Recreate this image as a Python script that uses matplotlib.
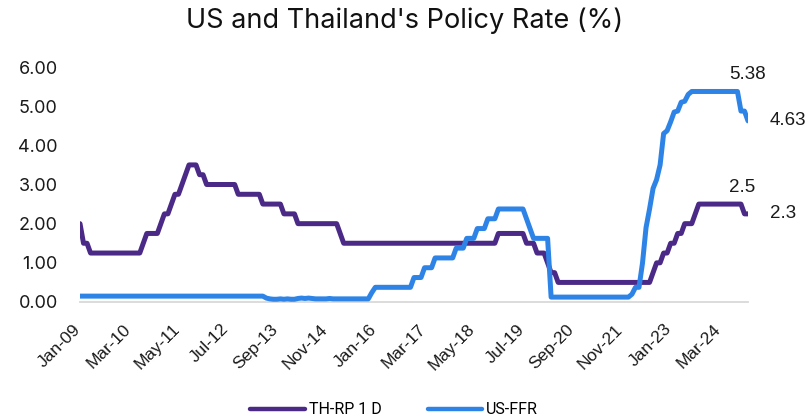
import numpy as np
import matplotlib
matplotlib.use("Agg")
import matplotlib.pyplot as plt
from matplotlib.transforms import ScaledTranslation

# Monthly data, Jan-2009 .. Nov-2024
th_rate = [
    2.00, 1.50, 1.50, 1.25, 1.25, 1.25, 1.25, 1.25, 1.25, 1.25, 1.25, 1.25,  # 2009
    1.25, 1.25, 1.25, 1.25, 1.25, 1.25, 1.50, 1.75, 1.75, 1.75, 1.75, 2.00,  # 2010
    2.25, 2.25, 2.50, 2.75, 2.75, 3.00, 3.25, 3.50, 3.50, 3.50, 3.25, 3.25,  # 2011
    3.00, 3.00, 3.00, 3.00, 3.00, 3.00, 3.00, 3.00, 3.00, 2.75, 2.75, 2.75,  # 2012
    2.75, 2.75, 2.75, 2.75, 2.50, 2.50, 2.50, 2.50, 2.50, 2.50, 2.25, 2.25,  # 2013
    2.25, 2.25, 2.00, 2.00, 2.00, 2.00, 2.00, 2.00, 2.00, 2.00, 2.00, 2.00,  # 2014
    2.00, 2.00, 1.75, 1.50, 1.50, 1.50, 1.50, 1.50, 1.50, 1.50, 1.50, 1.50,  # 2015
    1.50, 1.50, 1.50, 1.50, 1.50, 1.50, 1.50, 1.50, 1.50, 1.50, 1.50, 1.50,  # 2016
    1.50, 1.50, 1.50, 1.50, 1.50, 1.50, 1.50, 1.50, 1.50, 1.50, 1.50, 1.50,  # 2017
    1.50, 1.50, 1.50, 1.50, 1.50, 1.50, 1.50, 1.50, 1.50, 1.50, 1.50, 1.75,  # 2018
    1.75, 1.75, 1.75, 1.75, 1.75, 1.75, 1.75, 1.50, 1.50, 1.50, 1.25, 1.25,  # 2019
    1.25, 1.00, 0.75, 0.75, 0.50, 0.50, 0.50, 0.50, 0.50, 0.50, 0.50, 0.50,  # 2020
    0.50, 0.50, 0.50, 0.50, 0.50, 0.50, 0.50, 0.50, 0.50, 0.50, 0.50, 0.50,  # 2021
    0.50, 0.50, 0.50, 0.50, 0.50, 0.50, 0.50, 0.75, 1.00, 1.00, 1.25, 1.25,  # 2022
    1.50, 1.50, 1.75, 1.75, 2.00, 2.00, 2.00, 2.25, 2.50, 2.50, 2.50, 2.50,  # 2023
    2.50, 2.50, 2.50, 2.50, 2.50, 2.50, 2.50, 2.50, 2.50, 2.25, 2.25,        # 2024
]

us_rate = [
    0.15, 0.15, 0.15, 0.15, 0.15, 0.15, 0.15, 0.15, 0.15, 0.15, 0.15, 0.15,  # 2009
    0.15, 0.15, 0.15, 0.15, 0.15, 0.15, 0.15, 0.15, 0.15, 0.15, 0.15, 0.15,  # 2010
    0.15, 0.15, 0.15, 0.15, 0.15, 0.15, 0.15, 0.15, 0.15, 0.15, 0.15, 0.15,  # 2011
    0.15, 0.15, 0.15, 0.15, 0.15, 0.15, 0.15, 0.15, 0.15, 0.15, 0.15, 0.15,  # 2012
    0.15, 0.15, 0.15, 0.15, 0.15, 0.10, 0.08, 0.07, 0.07, 0.08, 0.07, 0.08,  # 2013
    0.07, 0.07, 0.09, 0.10, 0.09, 0.10, 0.09, 0.08, 0.08, 0.08, 0.08, 0.09,  # 2014
    0.08, 0.08, 0.08, 0.08, 0.08, 0.08, 0.08, 0.08, 0.08, 0.08, 0.08, 0.24,  # 2015
    0.375, 0.375, 0.375, 0.375, 0.375, 0.375, 0.375, 0.375, 0.375, 0.375, 0.375, 0.625,  # 2016
    0.625, 0.625, 0.875, 0.875, 0.875, 1.125, 1.125, 1.125, 1.125, 1.125, 1.125, 1.375,  # 2017
    1.375, 1.375, 1.625, 1.625, 1.625, 1.875, 1.875, 1.875, 2.125, 2.125, 2.125, 2.375,  # 2018
    2.375, 2.375, 2.375, 2.375, 2.375, 2.375, 2.375, 2.125, 1.875, 1.625, 1.625, 1.625,  # 2019
    1.625, 1.625, 0.125, 0.125, 0.125, 0.125, 0.125, 0.125, 0.125, 0.125, 0.125, 0.125,  # 2020
    0.125, 0.125, 0.125, 0.125, 0.125, 0.125, 0.125, 0.125, 0.125, 0.125, 0.125, 0.125,  # 2021
    0.125, 0.20, 0.375, 0.375, 1.00, 1.90, 2.375, 2.90, 3.125, 3.50, 4.30, 4.375,        # 2022
    4.60, 4.85, 4.875, 5.10, 5.125, 5.30, 5.375, 5.375, 5.375, 5.375, 5.375, 5.375,       # 2023
    5.375, 5.375, 5.375, 5.375, 5.375, 5.375, 5.375, 5.375, 4.875, 4.875, 4.625,          # 2024
]

tick_labels = ["Jan-09", "Mar-10", "May-11", "Jul-12", "Sep-13", "Nov-14", "Jan-16",
               "Mar-17", "May-18", "Jul-19", "Sep-20", "Nov-21", "Jan-23", "Mar-24"]
series_names = ["TH-RP 1 D", "US-FFR"]
peak_label = "5.38"
last_us_label = "4.63"
peak_th_label = "2.5"
last_th_label = "2.3"

TH_COLOR = "#4B2A87"
US_COLOR = "#2E84E6"

fig = plt.figure(figsize=(8.10, 4.18), dpi=100)
ax = fig.add_axes([80 / 810, 1 - 302 / 418, (748 - 80) / 810, (302 - 67) / 418])

x = np.arange(len(th_rate))
ax.plot(x, th_rate, color=TH_COLOR, lw=3.6, solid_capstyle="round",
        solid_joinstyle="round", label=series_names[0])
ax.plot(x, us_rate, color=US_COLOR, lw=3.6, solid_capstyle="round",
        solid_joinstyle="round", label=series_names[1])

ax.set_xlim(0, len(th_rate) - 1)
ax.set_ylim(0, 6)
ax.set_yticks(np.arange(0, 7, 1))
ax.set_yticklabels([f"{v:.2f}" for v in np.arange(0, 7, 1)],
                   fontfamily=["Inter", "DejaVu Sans"], fontsize=13, color="#1a1a1a")
tick_idx = np.arange(len(tick_labels)) * 14  # every 14 months
ax.set_xticks(tick_idx)
ax.set_xticklabels(tick_labels, rotation=45, ha="right", rotation_mode="default",
                   fontfamily=["Liberation Sans", "DejaVu Sans"], fontsize=12.5,
                   color="#1a1a1a")
ax.tick_params(axis="y", length=0, pad=16)
ax.tick_params(axis="x", length=0, pad=14)
shift = ScaledTranslation(4 / 100, 0, fig.dpi_scale_trans)
for lbl in ax.get_xticklabels():
    lbl.set_transform(lbl.get_transform() + shift)

for s in ["top", "right", "left"]:
    ax.spines[s].set_visible(False)
ax.spines["bottom"].set_color("#D9D9D9")
ax.spines["bottom"].set_linewidth(1.3)
ax.spines["bottom"].set_zorder(0)

last = len(th_rate) - 1
lab_font = dict(fontfamily=["Liberation Sans", "DejaVu Sans"], fontsize=13.5, color="#1a1a1a")
ax.annotate(peak_label, xy=(last, max(us_rate)), xytext=(0, 12.5), textcoords="offset points",
            ha="center", va="center", **lab_font)
ax.annotate(last_us_label, xy=(last, us_rate[-1]), xytext=(15.5, 0), textcoords="offset points",
            ha="left", va="center", **lab_font)
ax.annotate(peak_th_label, xy=(last, max(th_rate[-24:])), xytext=(-4.3, 12), textcoords="offset points",
            ha="center", va="center", **lab_font)
ax.annotate(last_th_label, xy=(last, th_rate[-1]), xytext=(15.5, 0), textcoords="offset points",
            ha="left", va="center", **lab_font)

fig.text(0.5, 1 - 21 / 418, "US and Thailand's Policy Rate (%)", ha="center", va="center",
         fontfamily=["Inter", "DejaVu Sans"], fontsize=19.5, color="#111111")

leg = fig.legend(loc="center", bbox_to_anchor=(394 / 810, 1 - 410 / 418), ncol=2,
                 frameon=False, handlelength=3.4, handletextpad=0.25, columnspacing=2.9,
                 prop={"family": ["Roboto", "DejaVu Sans"], "size": 11.5})
for line in leg.get_lines():
    line.set_linewidth(3.2)

fig.savefig("out.png", dpi=100)
